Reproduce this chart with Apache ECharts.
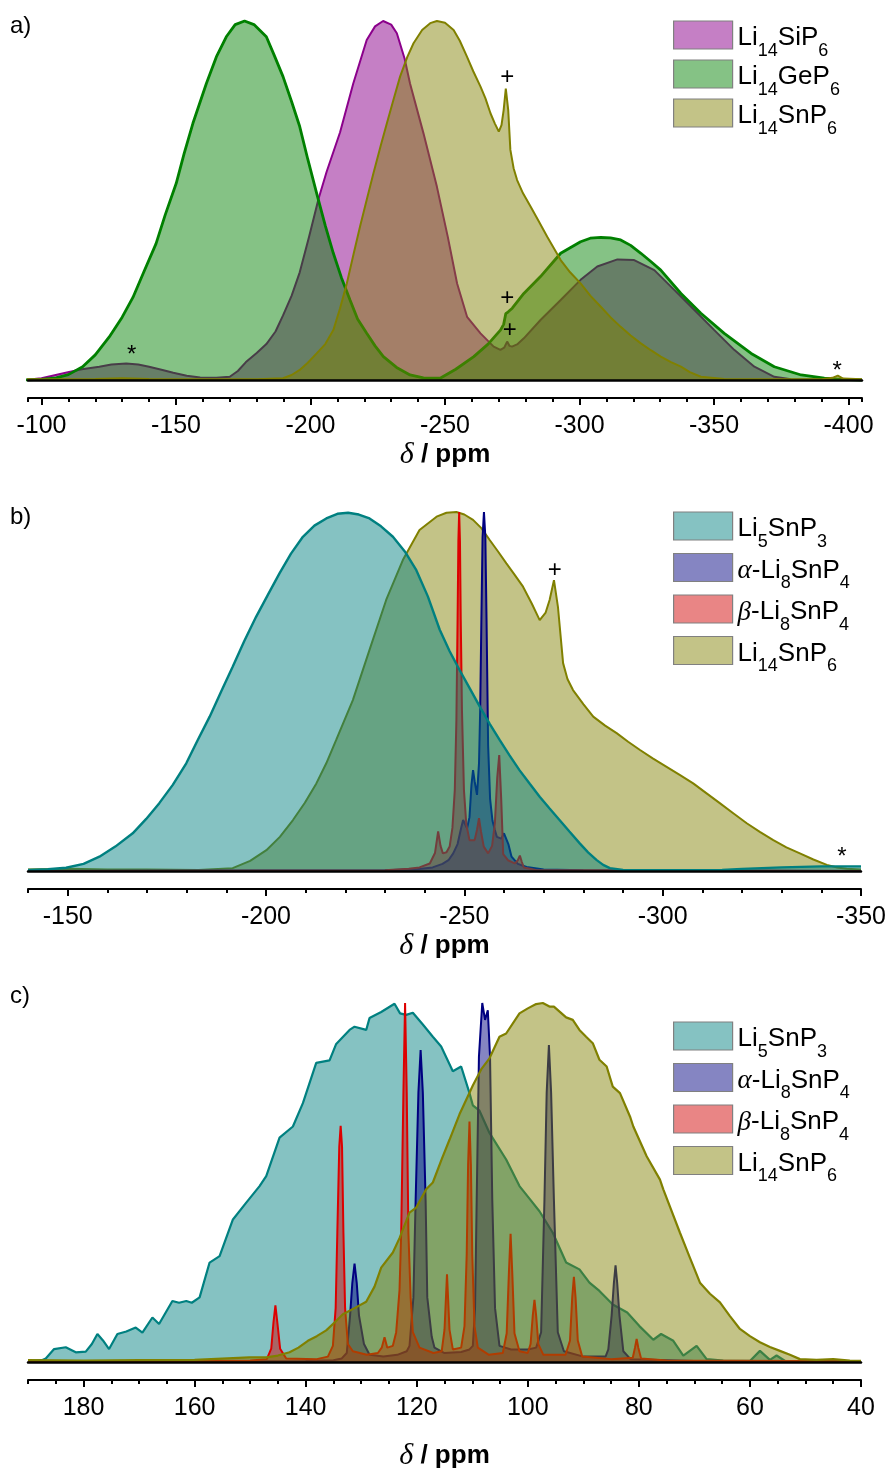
<!DOCTYPE html>
<html>
<head>
<meta charset="utf-8">
<script src="https://cdn.jsdelivr.net/npm/echarts@6/dist/echarts.min.js"></script>
<style>
html,body{margin:0;padding:0;background:#fff;}
#chart{width:889px;height:1472px;}
</style>
</head>
<body>
<div id="chart"></div>
<script>
// ---------------- DATA (ppm, normalised intensity) ----------------
// Panel a
const aSiP6 = [[-94,0],[-100,0.005],[-109,0.02],[-115,0.03],[-121.5,0.037],[-126,0.043],[-131.5,0.046],[-136,0.043],[-140,0.037],[-145,0.028],[-149,0.02],[-154,0.012],[-159,0.007],[-165,0.006],[-170,0.009],[-173,0.025],[-176,0.05],[-180,0.075],[-183.6,0.1],[-187,0.135],[-189.8,0.18],[-193,0.235],[-196,0.3],[-199.5,0.4],[-203,0.505],[-206,0.58],[-211,0.69],[-215.9,0.826],[-220.9,0.947],[-224,0.985],[-227,1.0],[-230,0.99],[-232.1,0.966],[-235,0.895],[-237,0.826],[-242,0.687],[-247,0.538],[-251,0.4],[-254.5,0.269],[-258.2,0.176],[-263.2,0.13],[-268.1,0.093],[-270.6,0.084],[-272,0.09],[-273.1,0.107],[-274,0.095],[-274.9,0.093],[-277,0.1],[-279.3,0.116],[-285.5,0.167],[-293,0.223],[-300.4,0.279],[-306.6,0.316],[-314.1,0.336],[-320.3,0.334],[-327.8,0.306],[-335.2,0.251],[-342.7,0.195],[-350.1,0.139],[-357.5,0.084],[-365,0.037],[-372.4,0.009],[-378.6,0.002],[-405,0]];
const aGeP6 = [[-94,0],[-100,0.002],[-105.4,0.006],[-110,0.015],[-115.3,0.037],[-120,0.07],[-125.2,0.12],[-130,0.175],[-134,0.23],[-138,0.3],[-142.6,0.38],[-146,0.46],[-150.1,0.548],[-153,0.63],[-156.3,0.715],[-161.3,0.826],[-165,0.9],[-168.7,0.956],[-172,0.99],[-175.5,1.0],[-179,0.99],[-183.6,0.956],[-186.5,0.905],[-189.8,0.845],[-193,0.775],[-196,0.706],[-199,0.615],[-202.3,0.52],[-205.5,0.43],[-208.5,0.353],[-211.5,0.285],[-214.7,0.223],[-217.5,0.17],[-220.9,0.13],[-224,0.095],[-227.1,0.065],[-232,0.035],[-237,0.014],[-242,0.006],[-248.2,0.005],[-254,0.03],[-260.7,0.065],[-266,0.1],[-270.6,0.139],[-271.8,0.155],[-272.6,0.185],[-273.5,0.19],[-275,0.2],[-279.3,0.241],[-285.5,0.288],[-293,0.353],[-300.4,0.385],[-304,0.395],[-307.9,0.397],[-311.5,0.396],[-315.3,0.39],[-319,0.375],[-322.8,0.353],[-326.5,0.33],[-330.2,0.306],[-337.7,0.241],[-345.1,0.186],[-353.8,0.13],[-363.8,0.074],[-372.4,0.037],[-382.4,0.014],[-391,0.005],[-398,0.002],[-405,0]];
const aSnP6 = [[-94,0.002],[-120,0.003],[-130,0.005],[-140,0.003],[-180,0.002],[-189.8,0.005],[-193,0.014],[-196,0.028],[-199,0.048],[-202.3,0.074],[-205.5,0.1],[-208.5,0.139],[-211,0.2],[-213.5,0.269],[-216,0.35],[-218.4,0.427],[-221,0.505],[-223.4,0.576],[-226,0.65],[-228.4,0.715],[-231,0.785],[-233.3,0.845],[-236,0.9],[-238.3,0.938],[-241.5,0.975],[-244.5,0.994],[-247,1.0],[-250,0.995],[-253.2,0.975],[-255.5,0.945],[-258.2,0.9],[-260.5,0.86],[-263.2,0.817],[-265,0.785],[-266.9,0.743],[-268.5,0.715],[-270,0.692],[-271,0.71],[-271.8,0.752],[-272.6,0.812],[-273.5,0.752],[-274.3,0.641],[-275.5,0.59],[-276.8,0.557],[-279,0.52],[-281.8,0.483],[-285,0.44],[-288,0.399],[-293,0.334],[-296.5,0.3],[-300.4,0.269],[-304,0.235],[-307.9,0.204],[-311.5,0.175],[-315.3,0.148],[-319,0.124],[-322.8,0.102],[-326.5,0.083],[-330.2,0.065],[-334,0.05],[-337.7,0.037],[-341,0.022],[-345.1,0.009],[-353.8,0.003],[-390,0.002],[-394,0.006],[-396,0.012],[-398,0.004],[-405,0.002]];

// Panel b
const bLi5SnP3 = [[-140,0.003],[-145,0.005],[-149.6,0.009],[-154,0.02],[-158,0.04],[-162,0.068],[-166.4,0.105],[-169.8,0.145],[-173.1,0.189],[-176.5,0.24],[-179.9,0.3],[-182.8,0.365],[-185.8,0.43],[-188.7,0.5],[-191.6,0.569],[-194.5,0.64],[-197.5,0.708],[-200.5,0.77],[-203.4,0.829],[-206.3,0.884],[-209.3,0.931],[-212.2,0.962],[-215.2,0.982],[-218,0.995],[-220.7,0.998],[-223.4,0.993],[-226.1,0.982],[-229,0.96],[-232,0.931],[-235,0.89],[-237.9,0.838],[-240.8,0.765],[-243.8,0.672],[-246.3,0.612],[-248.8,0.56],[-251.3,0.51],[-253.9,0.458],[-256.4,0.41],[-258.9,0.365],[-261.4,0.322],[-263.9,0.281],[-266.5,0.243],[-269,0.207],[-271.5,0.174],[-274,0.142],[-276.5,0.11],[-279.1,0.077],[-281.2,0.052],[-283.3,0.031],[-285,0.017],[-286.7,0.008],[-290,0.003],[-300,0.002],[-315,0.003],[-320,0.006],[-330,0.01],[-340,0.013],[-350,0.013]];
const bAlpha = [[-140,0],[-230,0.002],[-238,0.005],[-242,0.01],[-244.5,0.02],[-246,0.03],[-247.2,0.049],[-248.3,0.075],[-249.2,0.12],[-249.7,0.142],[-250.2,0.13],[-250.7,0.119],[-251.3,0.15],[-251.8,0.24],[-252.2,0.281],[-252.6,0.25],[-253.2,0.212],[-253.7,0.3],[-254.0,0.45],[-254.3,0.7],[-254.6,0.93],[-254.95,1.0],[-255.3,0.93],[-255.6,0.7],[-256.0,0.35],[-256.5,0.2],[-257.1,0.14],[-257.7,0.114],[-258.2,0.095],[-259.3,0.09],[-260.0,0.105],[-260.5,0.11],[-261.1,0.075],[-261.9,0.04],[-263.5,0.02],[-265.7,0.011],[-270,0.004],[-280,0.002],[-350,0]];
const bBeta = [[-140,0],[-230,0.002],[-236,0.006],[-238.7,0.01],[-241.3,0.021],[-242.6,0.05],[-243.4,0.11],[-244.0,0.07],[-244.6,0.049],[-245.5,0.052],[-246.3,0.068],[-247.0,0.12],[-247.6,0.226],[-248.0,0.42],[-248.3,0.7],[-248.5,0.92],[-248.7,1.0],[-248.9,0.92],[-249.1,0.7],[-249.4,0.45],[-249.9,0.226],[-250.5,0.13],[-251.3,0.086],[-252.6,0.086],[-253.2,0.115],[-253.7,0.147],[-254.2,0.11],[-254.9,0.068],[-256.0,0.049],[-257.0,0.07],[-257.7,0.133],[-258.3,0.26],[-258.8,0.323],[-259.3,0.2],[-259.8,0.047],[-261,0.03],[-262.7,0.021],[-263.5,0.03],[-264,0.043],[-264.5,0.025],[-265.0,0.01],[-268,0.003],[-350,0]];
const bSnP6 = [[-140,0.004],[-150,0.006],[-160,0.004],[-170,0.004],[-183,0.003],[-191.6,0.008],[-196,0.028],[-200.1,0.058],[-203.5,0.095],[-206.8,0.142],[-209.8,0.19],[-212.7,0.244],[-215.2,0.3],[-217.7,0.365],[-221.9,0.476],[-226.1,0.616],[-230.3,0.755],[-234.5,0.866],[-238.7,0.95],[-243,0.987],[-245.5,0.998],[-248,1.0],[-250,0.993],[-252.2,0.978],[-254.3,0.955],[-256.4,0.922],[-258.5,0.89],[-260.6,0.857],[-262.7,0.825],[-264.8,0.792],[-267,0.745],[-269,0.699],[-270.5,0.72],[-271.5,0.755],[-272.6,0.81],[-273.6,0.736],[-274.9,0.579],[-276,0.535],[-277.4,0.504],[-280,0.465],[-282.5,0.43],[-285.5,0.405],[-288.4,0.384],[-291.3,0.36],[-294.3,0.337],[-297.6,0.313],[-301,0.29],[-304.4,0.267],[-307.7,0.244],[-311,0.217],[-314.4,0.189],[-317.8,0.161],[-321.2,0.133],[-324.5,0.109],[-327.9,0.086],[-331.2,0.066],[-334.6,0.049],[-338,0.032],[-341.4,0.017],[-344,0.01],[-346.4,0.006],[-350,0.004]];

// Panel c
const cLi5SnP3 = [[190,0.003],[187.5,0.005],[186.8,0.01],[185.3,0.036],[183.2,0.041],[181.4,0.027],[179.6,0.029],[178.5,0.05],[177.5,0.078],[176.5,0.06],[175.4,0.036],[173.9,0.078],[172.3,0.085],[170.6,0.096],[169.4,0.082],[167.6,0.124],[166.4,0.106],[164,0.17],[162.8,0.165],[161.5,0.17],[160.5,0.165],[159.1,0.18],[157.3,0.277],[155.5,0.295],[153.1,0.397],[150.7,0.444],[148.3,0.49],[147.1,0.518],[144.7,0.625],[142.3,0.656],[140.5,0.721],[138.1,0.833],[135.7,0.84],[134.5,0.886],[132.1,0.925],[131.2,0.934],[129.1,0.925],[128.5,0.958],[126.4,0.975],[124.0,0.998],[123.0,0.971],[121.9,0.967],[120.7,0.973],[118.9,0.94],[117.1,0.906],[115.6,0.879],[113.5,0.81],[112,0.823],[110.5,0.749],[109.9,0.715],[108.7,0.7],[106.9,0.638],[103.9,0.564],[101.5,0.49],[99.7,0.455],[97.9,0.42],[95.5,0.36],[93.1,0.277],[90.7,0.258],[88.9,0.221],[87.1,0.198],[84.7,0.16],[82.1,0.138],[79.9,0.1],[77.4,0.062],[76.0,0.078],[73.8,0.059],[72,0.018],[69.6,0.045],[67.8,0.008],[64.8,0.004],[60,0.003],[58.2,0.031],[56.4,0.006],[55.2,0.018],[53.6,0.002],[40,0.001]];
const cAlpha = [[190,0.002],[160,0.002],[140,0.003],[135,0.005],[133.5,0.01],[132.6,0.025],[132.0,0.13],[131.6,0.22],[131.2,0.274],[130.8,0.22],[130.4,0.13],[129.5,0.05],[128.5,0.02],[126,0.015],[123.5,0.02],[121.8,0.03],[121.3,0.045],[120.6,0.18],[120.2,0.45],[119.7,0.75],[119.3,0.869],[118.9,0.75],[118.4,0.45],[118.1,0.18],[117.3,0.07],[116.8,0.04],[115,0.025],[112,0.028],[110.5,0.035],[109.9,0.045],[109.5,0.15],[109.2,0.453],[108.8,0.85],[108.2,1.0],[107.7,0.953],[107.2,0.98],[106.8,0.85],[106.4,0.453],[105.9,0.15],[105.1,0.045],[103,0.035],[100,0.035],[98.5,0.04],[97.6,0.083],[97.0,0.453],[96.6,0.75],[96.2,0.883],[95.8,0.75],[95.3,0.453],[94.6,0.083],[93.5,0.03],[90,0.015],[86,0.015],[85.5,0.035],[84.9,0.13],[84.5,0.22],[84.2,0.269],[83.9,0.22],[83.5,0.13],[82.8,0.03],[81.5,0.008],[70,0.003],[40,0.002]];
const cBeta = [[190,0.002],[160,0.003],[150,0.004],[147,0.008],[146.2,0.037],[145.8,0.11],[145.45,0.158],[145.1,0.11],[144.6,0.037],[143.5,0.01],[138,0.008],[136,0.015],[135.1,0.045],[134.6,0.15],[134.3,0.36],[133.95,0.6],[133.7,0.658],[133.45,0.6],[133.2,0.36],[132.9,0.15],[132.4,0.05],[131.5,0.03],[129,0.02],[127,0.025],[126.3,0.04],[125.8,0.069],[125.3,0.04],[124.3,0.045],[123.7,0.083],[123.1,0.2],[122.8,0.36],[122.4,0.75],[122.1,1.0],[121.8,0.75],[121.5,0.36],[121.1,0.18],[120.7,0.083],[119.5,0.04],[117,0.025],[115.5,0.03],[115.0,0.09],[114.55,0.244],[114.1,0.09],[113.5,0.035],[112.0,0.04],[111.4,0.1],[111.0,0.3],[110.75,0.55],[110.5,0.67],[110.25,0.55],[110.0,0.3],[109.6,0.1],[109.0,0.04],[107,0.02],[104.5,0.025],[103.8,0.08],[103.4,0.25],[103.1,0.357],[102.8,0.25],[102.4,0.08],[101.5,0.03],[100,0.025],[99.5,0.05],[99.1,0.13],[98.8,0.173],[98.5,0.13],[98.1,0.05],[97.2,0.02],[93.2,0.02],[92.4,0.06],[92.0,0.18],[91.7,0.237],[91.4,0.18],[91.0,0.06],[90.2,0.015],[85,0.008],[81.1,0.012],[80.7,0.04],[80.4,0.064],[80.1,0.04],[79.6,0.01],[75,0.004],[40,0.002]];
const cSnP6 = [[190,0.005],[180,0.004],[170,0.005],[160,0.006],[150.1,0.013],[147.1,0.013],[145,0.018],[142.9,0.027],[141.3,0.04],[139.6,0.059],[138,0.072],[136.3,0.088],[134.8,0.11],[133.3,0.133],[131.2,0.15],[129.1,0.168],[127.6,0.21],[126.4,0.263],[124.3,0.305],[123.1,0.345],[121.3,0.416],[120.1,0.43],[118.3,0.481],[117.1,0.5],[115.5,0.565],[114.1,0.619],[112.3,0.69],[110.5,0.75],[109.9,0.77],[108.4,0.815],[106.9,0.846],[105.1,0.906],[103.9,0.915],[101.5,0.971],[100,0.985],[98.5,0.997],[97.3,1.0],[96.1,0.99],[95.3,0.99],[93.1,0.96],[91.9,0.953],[90.7,0.925],[89.5,0.906],[88.3,0.888],[87.1,0.842],[85.8,0.823],[84.7,0.767],[83.4,0.749],[81.6,0.684],[81,0.656],[78.6,0.573],[76.2,0.508],[75.6,0.481],[72.6,0.36],[70.8,0.29],[69,0.221],[67.2,0.19],[65.4,0.166],[63.6,0.128],[61.8,0.092],[60,0.072],[58.2,0.055],[56.4,0.042],[54.6,0.031],[52.8,0.02],[51,0.008],[48,0.006],[45,0.008],[42,0.004],[40,0.003]];

// Tick values
const aMajor = [-100,-150,-200,-250,-300,-350,-400];
const aMinor = [-95,-110,-120,-130,-140,-160,-170,-180,-190,-210,-220,-230,-240,-260,-270,-280,-290,-310,-320,-330,-340,-360,-370,-380,-390,-405];
const bMajor = [-150,-200,-250,-300,-350];
const bMinor = [-140,-160,-170,-180,-190,-210,-220,-230,-240,-260,-270,-280,-290,-310,-320,-330,-340];
const cMajor = [180,160,140,120,100,80,60,40];
const cMinor = [190,185,175,170,165,155,150,145,135,130,125,115,110,105,95,90,85,75,70,65,55,50,45];

// Annotations [ppm, intensity, text]
const aMarks = {Si: [[-274.1,0.139,'+'],[-133.5,0.069,'*']], Ge: [[-273.1,0.226,'+']], Sn: [[-273.1,0.843,'+'],[-395.8,0.024,'*']]};
const bMarks = {Sn: [[-272.8,0.838,'+'],[-345.2,0.039,'*']]};

// Series names
const namesA = ['Li14SiP6','Li14GeP6','Li14SnP6'];
const namesB = ['Li5SnP3 ','α-Li8SnP4 ','β-Li8SnP4 ','Li14SnP6 '];
const namesC = ['Li5SnP3  ','α-Li8SnP4  ','β-Li8SnP4  ','Li14SnP6  '];

// ---------------- STYLE ----------------
const COL = {
  Si: {line:'#8b008b', fill:'rgba(139,0,139,0.5)'},
  Ge: {line:'#008000', fill:'rgba(0,128,0,0.48)'},
  Sn: {line:'#808000', fill:'rgba(128,128,0,0.47)'},
  Teal: {line:'#008080', fill:'rgba(0,128,128,0.48)'},
  Alpha: {line:'#000080', fill:'rgba(0,0,128,0.48)'},
  Beta: {line:'#dd0000', fill:'rgba(210,0,0,0.48)'}
};
const SANS = "'Liberation Sans', Arial, sans-serif";
const SERIF = "'Liberation Serif', 'DejaVu Serif', serif";

const richLegend = {
  m: {fontSize:26, fontFamily:SANS, color:'#000', lineHeight:30, padding:[5,0,0,0], verticalAlign:'top'},
  s: {fontSize:18, fontFamily:SANS, color:'#000', lineHeight:18, padding:[22,0,0,0], verticalAlign:'top'},
  g: {fontSize:27, fontFamily:SERIF, fontStyle:'italic', color:'#000', lineHeight:30, padding:[5,0,0,0], verticalAlign:'top'}
};
function legendText(name){
  const n = name.trim();
  const map = {
    'Li14SiP6':'{m|Li}{s|14}{m|SiP}{s|6}',
    'Li14GeP6':'{m|Li}{s|14}{m|GeP}{s|6}',
    'Li14SnP6':'{m|Li}{s|14}{m|SnP}{s|6}',
    'Li5SnP3':'{m|Li}{s|5}{m|SnP}{s|3}',
    'α-Li8SnP4':'{g|α}{m|-Li}{s|8}{m|SnP}{s|4}',
    'β-Li8SnP4':'{g|β}{m|-Li}{s|8}{m|SnP}{s|4}'
  };
  return map[n];
}

function axesFor(g, min, max, major, minor, nameGap){
  const common = {type:'value', gridIndex:g, min:min, max:max, inverse:true, position:'bottom', splitLine:{show:false}};
  return [
    Object.assign({}, common, {
      offset:18,
      axisLine:{show:true, onZero:false, lineStyle:{color:'#000', width:2}},
      axisTick:{show:true, inside:false, length:7, customValues:major, lineStyle:{color:'#000', width:2}},
      axisLabel:{show:true, customValues:major, margin:16, fontSize:25, fontFamily:SANS, color:'#000', formatter:(v)=>String(v)},
      name:'{d|δ}{p| / ppm}', nameLocation:'middle', nameGap:nameGap,
      nameTextStyle:{rich:{
        d:{fontFamily:SERIF, fontStyle:'italic', fontSize:30, color:'#000'},
        p:{fontFamily:SANS, fontWeight:'bold', fontSize:26, color:'#000'}
      }}
    }),
    Object.assign({}, common, {
      offset:18,
      axisLine:{show:false, onZero:false},
      axisTick:{show:true, inside:false, length:4, customValues:minor, lineStyle:{color:'#000', width:2}},
      axisLabel:{show:false}
    }),
    Object.assign({}, common, {
      offset:0, z:20,
      axisLine:{show:true, onZero:false, lineStyle:{color:'#000', width:2.5}},
      axisTick:{show:false}, axisLabel:{show:false}
    })
  ];
}

// order = drawing order within a panel (later series fill covers earlier lines)
function mk(name, data, col, xIdx, yIdx, width, order, marks){
  const s = {
    name:name, type:'line', data:data, xAxisIndex:xIdx, yAxisIndex:yIdx,
    z: 2 + order,
    symbol:'none', showSymbol:false, clip:false, silent:true, smooth:false,
    lineStyle:{color:col.line, width:width||2},
    itemStyle:{color:col.line},
    areaStyle:{color:col.fill, opacity:1, origin:'start'},
    emphasis:{disabled:true}
  };
  if (marks){
    s.markPoint = {
      silent:true, z:30, symbol:'circle', symbolSize:1,
      itemStyle:{color:'rgba(0,0,0,0)'},
      label:{show:true, position:'inside', color:'#000', fontSize:24, fontFamily:SANS, formatter:(p)=>p.data.txt},
      data: marks.map(m=>({coord:[m[0],m[1]], txt:m[2]}))
    };
  }
  return s;
}

function legendFor(names, fills, top, gap){
  return {
    orient:'vertical', left:673, top:top, padding:0, itemGap:gap,
    itemWidth:59, itemHeight:28, icon:'rect', selectedMode:false,
    data: names.map((n,i)=>({name:n, icon:'rect', itemStyle:{color:fills[i], borderColor:'#808080', borderWidth:1.2}})),
    formatter: legendText,
    textStyle:{rich:richLegend, color:'#000'}
  };
}

const option = {
  animation:false,
  backgroundColor:'#fff',
  grid:[
    {left:28, right:27, top:21, bottom:1092},
    {left:28, right:28, top:512, bottom:601},
    {left:28, right:28, top:1003, bottom:109}
  ],
  xAxis:[].concat(
    axesFor(0, -405, -95, aMajor, aMinor, 42),
    axesFor(1, -350, -140, bMajor, bMinor, 41),
    axesFor(2, 40, 190, cMajor, cMinor, 61)
  ),
  yAxis:[0,1,2].map(g=>({type:'value', gridIndex:g, min:0, max:1, show:false, splitLine:{show:false}})),
  legend:[
    legendFor(namesA, [COL.Si.fill, COL.Ge.fill, COL.Sn.fill], 20, -1),
    legendFor(namesB, [COL.Teal.fill, COL.Alpha.fill, COL.Beta.fill, COL.Sn.fill], 511, 1.5),
    legendFor(namesC, [COL.Teal.fill, COL.Alpha.fill, COL.Beta.fill, COL.Sn.fill], 1021, 1.5)
  ],
  series:[
    // panel a: Si, Ge, Sn
    mk(namesA[0], aSiP6, COL.Si, 0, 0, 2, 0, aMarks.Si),
    mk(namesA[1], aGeP6, COL.Ge, 0, 0, 2.8, 1, aMarks.Ge),
    mk(namesA[2], aSnP6, COL.Sn, 0, 0, 2, 2, aMarks.Sn),
    // panel b: Sn, alpha, beta, Li5SnP3
    mk(namesB[3], bSnP6, COL.Sn, 3, 1, 2, 0, bMarks.Sn),
    mk(namesB[1], bAlpha, COL.Alpha, 3, 1, 2, 1),
    mk(namesB[2], bBeta, COL.Beta, 3, 1, 2, 2),
    mk(namesB[0], bLi5SnP3, COL.Teal, 3, 1, 2.4, 3),
    // panel c: Li5SnP3, alpha, beta, Sn
    mk(namesC[0], cLi5SnP3, COL.Teal, 6, 2, 2.2, 0),
    mk(namesC[1], cAlpha, COL.Alpha, 6, 2, 2, 1),
    mk(namesC[2], cBeta, COL.Beta, 6, 2, 2, 2),
    mk(namesC[3], cSnP6, COL.Sn, 6, 2, 2.2, 3)
  ],
  graphic:[
    {type:'text', left:10, top:14, style:{text:'a)', font:"24px 'Liberation Sans', Arial", fill:'#000'}},
    {type:'text', left:10, top:505, style:{text:'b)', font:"24px 'Liberation Sans', Arial", fill:'#000'}},
    {type:'text', left:10, top:984, style:{text:'c)', font:"24px 'Liberation Sans', Arial", fill:'#000'}}
  ]
};

const chart = echarts.init(document.getElementById('chart'), null, {renderer:'canvas'});
chart.setOption(option);
</script>
</body>
</html>
